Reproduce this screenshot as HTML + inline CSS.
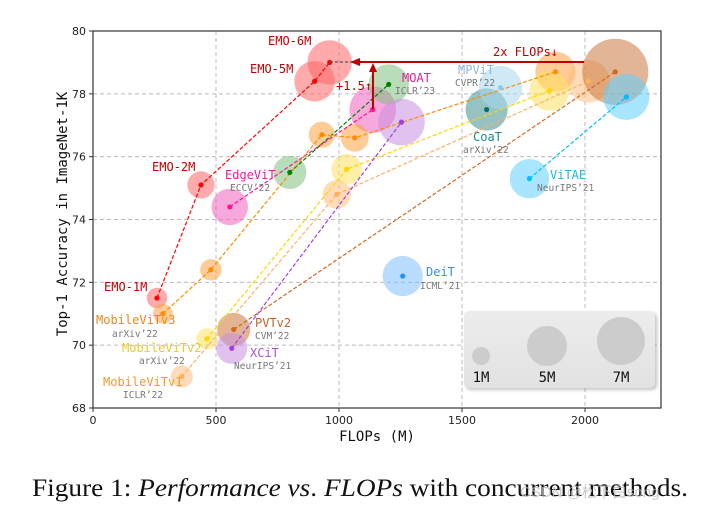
<!DOCTYPE html>
<html><head><meta charset="utf-8"><style>
html,body{margin:0;padding:0;background:#fff;}
svg{display:block;}
.t{font-family:"DejaVu Sans","Liberation Sans",sans-serif;font-size:11px;fill:#222;}
.m{font-family:"DejaVu Sans Mono","Liberation Mono",monospace;}
</style></head><body>
<svg id="chart" width="702" height="511" viewBox="0 0 702 511" xmlns="http://www.w3.org/2000/svg">
<defs>
<linearGradient id="lg" x1="0" y1="0" x2="0" y2="1"><stop offset="0" stop-color="#ececec"/><stop offset="1" stop-color="#e2e2e2"/></linearGradient>
<filter id="sh" x="-10%" y="-10%" width="130%" height="130%"><feDropShadow dx="2" dy="2" stdDeviation="1.5" flood-color="#888" flood-opacity="0.5"/></filter>
</defs>
<g id="grid"></g>
<g id="series"></g>
<g id="labels">
<text class="m" x="268" y="45" font-size="12" fill="#c00000">EMO-6M</text>
<text class="m" x="250" y="73" font-size="12" fill="#c00000">EMO-5M</text>
<text class="m" x="152" y="171" font-size="12" fill="#c00000">EMO-2M</text>
<text class="m" x="104" y="291" font-size="12" fill="#c00000">EMO-1M</text>
<text class="m" x="225" y="179" font-size="12" fill="#e0209a">EdgeViT</text>
<text class="m" x="230" y="191" font-size="9.5" fill="#777">ECCV’22</text>
<text class="m" x="402" y="82" font-size="12" fill="#e0209a">MOAT</text>
<text class="m" x="395" y="94" font-size="9.5" fill="#777">ICLR’23</text>
<text class="m" x="458" y="74" font-size="12" fill="#8fb8d8">MPViT</text>
<text class="m" x="455" y="86" font-size="9.5" fill="#777">CVPR’22</text>
<text class="m" x="473" y="141" font-size="12" fill="#1a8a8a">CoaT</text>
<text class="m" x="463" y="153" font-size="9.5" fill="#777">arXiv’22</text>
<text class="m" x="550" y="179" font-size="12" fill="#1fb5e8">ViTAE</text>
<text class="m" x="537" y="191" font-size="9.5" fill="#777">NeurIPS’21</text>
<text class="m" x="426" y="276" font-size="12" fill="#3a8ee8">DeiT</text>
<text class="m" x="420" y="289" font-size="9.5" fill="#777">ICML’21</text>
<text class="m" x="96" y="324" font-size="12" fill="#e8891a">MobileViTv3</text>
<text class="m" x="112" y="337" font-size="9.5" fill="#777">arXiv’22</text>
<text class="m" x="122" y="352" font-size="12" fill="#e8cc30">MobileViTv2</text>
<text class="m" x="139" y="364" font-size="9.5" fill="#777">arXiv’22</text>
<text class="m" x="103" y="386" font-size="12" fill="#f09a30">MobileViTv1</text>
<text class="m" x="123" y="398" font-size="9.5" fill="#777">ICLR’22</text>
<text class="m" x="255" y="327" font-size="12" fill="#c8602a">PVTv2</text>
<text class="m" x="255" y="339" font-size="9.5" fill="#777">CVM’22</text>
<text class="m" x="250" y="357" font-size="12" fill="#b050d8">XCiT</text>
<text class="m" x="234" y="369" font-size="9.5" fill="#777">NeurIPS’21</text>
</g>
<g id="annot">
<line x1="330" y1="62" x2="356" y2="62" stroke="#555" stroke-width="1.2" stroke-dasharray="3,2"/>
<line x1="359" y1="62" x2="584" y2="62" stroke="#c00000" stroke-width="2"/>
<polygon points="350,62 360,58 360,66" fill="#c00000"/>
<line x1="373" y1="109" x2="373" y2="70" stroke="#c00000" stroke-width="2"/>
<polygon points="373,63 369,72 377,72" fill="#c00000"/>
<text class="m" x="336" y="90" font-size="12" fill="#c00000">+1.5↑</text>
<text class="m" x="493" y="56" font-size="12" fill="#c00000">2x FLOPs↓</text>
</g>
<g id="legend">
<rect x="464" y="311" width="191" height="77" rx="5" fill="url(#lg)" filter="url(#sh)"/>
<circle cx="481" cy="356" r="9" fill="#ccc"/>
<circle cx="547" cy="346" r="20" fill="#ccc"/>
<circle cx="621" cy="341" r="24" fill="#ccc"/>
<text class="m" x="481" y="382" font-size="14" text-anchor="middle" fill="#111">1M</text>
<text class="m" x="547" y="382" font-size="14" text-anchor="middle" fill="#111">5M</text>
<text class="m" x="621" y="382" font-size="14" text-anchor="middle" fill="#111">7M</text>
</g>
<g id="axes"></g>
<text class="m" x="377" y="441" font-size="14" text-anchor="middle" fill="#111">FLOPs (M)</text>
<text class="m" transform="translate(67,214) rotate(-90)" font-size="14" text-anchor="middle" fill="#111">Top-1 Accuracy in ImageNet-1K</text>
<text x="32" y="496" font-family="'Liberation Serif',serif" font-size="25" fill="#111" textLength="656" lengthAdjust="spacingAndGlyphs">Figure 1: <tspan font-style="italic">Performance vs</tspan>. <tspan font-style="italic">FLOPs</tspan> with concurrent methods.</text>
<text x="520" y="497" font-family="'Liberation Sans','Noto Sans CJK SC',sans-serif" font-size="15" fill="#bbb" fill-opacity="0.8">CSDN @松下白song</text>
</svg>
<script>
const xTicks=[0,500,1000,1500,2000];
const yTicks=[68,70,72,74,76,78,80];
const seriesNames=["EMO","EdgeViT","MOAT","MobileViTv3","MobileViTv1","MobileViTv2","PVTv2","XCiT","CoaT","MPViT","DeiT","ViTAE"];
const seriesColors=["#ff0000","#ff1493","#008000","#ff8c00","#ffb060","#ffd700","#d2691e","#a040e0","#007070","#87ceeb","#1e90ff","#00bfff"];
const seriesFill=["#ff6666","#f060c0","#80c080","#ffa040","#ffc080","#ffe060","#c87840","#c890e0","#409090","#a8d8ee","#80c0ff","#60d0ff"];
const flopsEMO=[260,439,901,962], accEMO=[71.5,75.1,78.4,79.0], parEMO=[1.3,2.3,5.1,6.1];
const flopsEdge=[556,1137], accEdge=[74.4,77.5], parEdge=[4.1,6.7];
const flopsMOAT=[800,1202], accMOAT=[75.5,78.3], parMOAT=[3.4,5.0];
const flopsV3=[284,479,930,1064,1880], accV3=[71.0,72.4,76.7,76.6,78.7], parV3=[1.2,1.4,2.1,2.4,5.0];
const flopsV1=[361,991,2014], accV1=[69.0,74.8,78.4], parV1=[1.5,2.5,5.6];
const flopsV2=[463,1031,1855], accV2=[70.2,75.6,78.1], parV2=[1.4,2.9,4.9];
const flopsPVT=[572,2123], accPVT=[70.5,78.7], parPVT=[3.4,13.5];
const flopsXCiT=[564,1254], accXCiT=[69.9,77.1], parXCiT=[3.0,6.7];
const flopsCoaT=[1600], accCoaT=[77.5], parCoaT=[5.5];
const flopsMPViT=[1656], accMPViT=[78.2], parMPViT=[5.8];
const flopsDeiT=[1259], accDeiT=[72.2], parDeiT=[5.0];
const flopsViTAE=[1774,2168], accViTAE=[75.3,77.9], parViTAE=[4.8,6.5];
const allFlops=[flopsEMO,flopsEdge,flopsMOAT,flopsV3,flopsV1,flopsV2,flopsPVT,flopsXCiT,flopsCoaT,flopsMPViT,flopsDeiT,flopsViTAE];
const allAcc=[accEMO,accEdge,accMOAT,accV3,accV1,accV2,accPVT,accXCiT,accCoaT,accMPViT,accDeiT,accViTAE];
const allPar=[parEMO,parEdge,parMOAT,parV3,parV1,parV2,parPVT,parXCiT,parCoaT,parMPViT,parDeiT,parViTAE];

const X0=93,X1=661,Y0=408,Y1=31;
const xs=v=>X0+v*(339-93)/1000;
const ys=v=>Y0-(v-68)*(Y0-Y1)/12;
const rs=p=>9*Math.sqrt(p);
const NS="http://www.w3.org/2000/svg";
function mk(tag,attrs,parent){const e=document.createElementNS(NS,tag);for(const k in attrs)e.setAttribute(k,attrs[k]);parent.appendChild(e);return e;}
const grid=document.getElementById('grid'),axes=document.getElementById('axes'),ser=document.getElementById('series');
xTicks.forEach(t=>{
  const l=mk('line',{x1:xs(t),x2:xs(t),y1:Y1,y2:Y0,stroke:'#bbb','stroke-dasharray':'4,3','stroke-width':1},grid);
  
  
  const tk=mk('line',{x1:xs(t),x2:xs(t),y1:Y0,y2:Y0+4,stroke:'#333'},axes);
  
  
  const tx=mk('text',{x:xs(t),y:Y0+16,'text-anchor':'middle',class:'t'},axes);tx.textContent=t;
  
  
});
yTicks.forEach(t=>{
  const l=mk('line',{x1:X0,x2:X1,y1:ys(t),y2:ys(t),stroke:'#bbb','stroke-dasharray':'4,3','stroke-width':1},grid);
  
  
  const tk=mk('line',{x1:X0-4,x2:X0,y1:ys(t),y2:ys(t),stroke:'#333'},axes);
  
  
  const tx=mk('text',{x:X0-7,y:ys(t)+4,'text-anchor':'end',class:'t'},axes);tx.textContent=t;
  
  
});
const frame=mk('rect',{x:X0,y:Y1,width:X1-X0,height:Y0-Y1,fill:'none',stroke:'#333','stroke-width':1.2},axes);


const bub=mk('g',{},ser),lin=mk('g',{},ser),dots=mk('g',{},ser);
seriesNames.forEach((n,i)=>{
  const F=allFlops[i],A=allAcc[i],P=allPar[i];
  const key=n.toLowerCase();
  F.forEach((f,j)=>{
    const c=mk('circle',{cx:xs(f),cy:ys(A[j]),r:rs(P[j]),fill:seriesFill[i],'fill-opacity':0.55},bub);
    
    
    const d=mk('circle',{cx:xs(f),cy:ys(A[j]),r:2.6,fill:seriesColors[i]},dots);
    
    
  });
  if(F.length>1){
    const pts=F.map((f,j)=>xs(f)+','+ys(A[j])).join(' ');
    const pl=mk('polyline',{points:pts,fill:'none',stroke:seriesColors[i],'stroke-width':1.2,'stroke-dasharray':'4,2'},lin);
    
    
  }
});
</script>
</body></html>
